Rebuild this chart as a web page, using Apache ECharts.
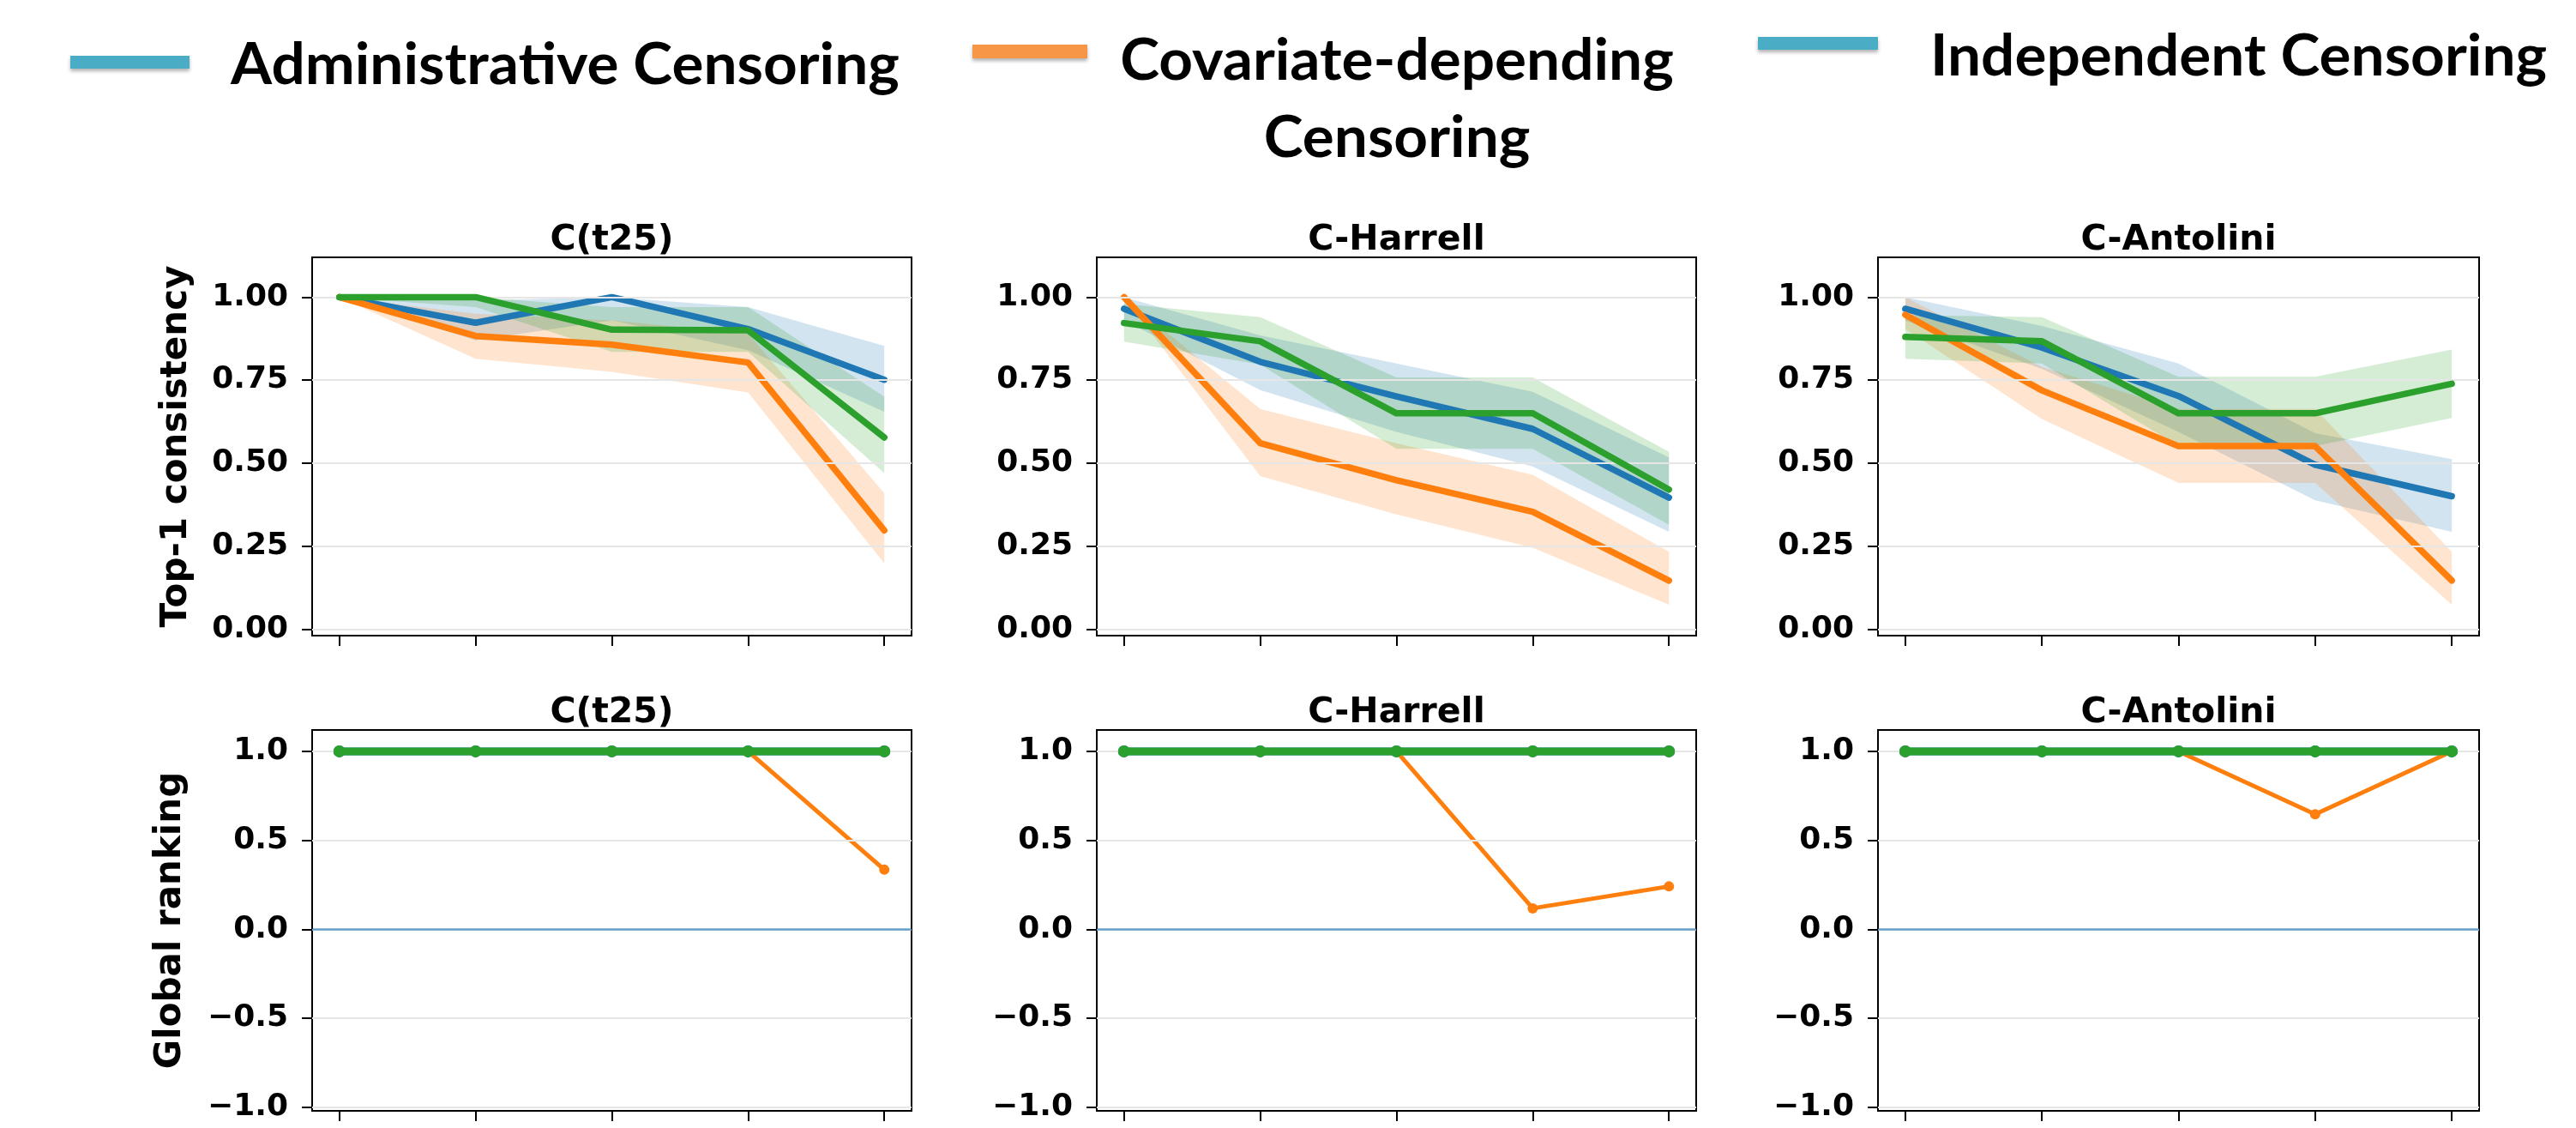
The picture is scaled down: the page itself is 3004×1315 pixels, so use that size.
<!DOCTYPE html>
<html><head><meta charset="utf-8">
<script src="https://cdn.jsdelivr.net/npm/echarts@6/dist/echarts.min.js"></script>
<style>html,body{margin:0;padding:0;background:#fff}#c{width:3004px;height:1315px}</style>
</head><body><div id="c"></div>
<script>
// ---------- data ----------
const xPositions = [0, 1, 2, 3, 4];
const panelTitles = ['C(t25)', 'C-Harrell', 'C-Antolini'];
const legendLabels = ['Administrative Censoring', 'Covariate-depending\nCensoring', 'Independent Censoring'];
const topTicks = [0, 0.25, 0.5, 0.75, 1.0];
const bottomTicks = [-1.0, -0.5, 0.0, 0.5, 1.0];
const topAxisName = 'Top-1 consistency';
const bottomAxisName = 'Global ranking';

// Top-1 consistency: mean, lower and upper band (C(t25))
const t25AdmMean = [1.0, 0.923, 1.0, 0.904, 0.751];
const t25AdmLow  = [1.0, 0.87, 0.93, 0.84, 0.655];
const t25AdmHigh = [1.0, 0.99, 1.0, 0.97, 0.853];
const t25CovMean = [1.0, 0.883, 0.857, 0.803, 0.297];
const t25CovLow  = [1.0, 0.814, 0.775, 0.713, 0.198];
const t25CovHigh = [1.0, 0.95, 0.93, 0.89, 0.409];
const t25IndMean = [1.0, 1.0, 0.902, 0.90, 0.577];
const t25IndLow  = [1.0, 0.97, 0.835, 0.835, 0.47];
const t25IndHigh = [1.0, 1.0, 0.97, 0.97, 0.70];

// C-Harrell
const harAdmMean = [0.965, 0.805, 0.701, 0.603, 0.396];
const harAdmLow  = [0.93, 0.72, 0.594, 0.49, 0.293];
const harAdmHigh = [1.0, 0.885, 0.80, 0.715, 0.517];
const harCovMean = [1.0, 0.56, 0.448, 0.353, 0.146];
const harCovLow  = [1.0, 0.461, 0.345, 0.245, 0.073];
const harCovHigh = [1.0, 0.663, 0.56, 0.465, 0.233];
const harIndMean = [0.922, 0.867, 0.65, 0.65, 0.42];
const harIndLow  = [0.866, 0.797, 0.543, 0.543, 0.314];
const harIndHigh = [0.98, 0.94, 0.758, 0.758, 0.534];

// C-Antolini
const antAdmMean = [0.965, 0.848, 0.702, 0.495, 0.40];
const antAdmLow  = [0.93, 0.784, 0.594, 0.388, 0.293];
const antAdmHigh = [1.0, 0.913, 0.80, 0.59, 0.512];
const antCovMean = [0.947, 0.719, 0.551, 0.551, 0.146];
const antCovLow  = [0.904, 0.633, 0.44, 0.44, 0.073];
const antCovHigh = [1.0, 0.79, 0.663, 0.663, 0.233];
const antIndMean = [0.88, 0.867, 0.65, 0.65, 0.739];
const antIndLow  = [0.814, 0.80, 0.551, 0.551, 0.636];
const antIndHigh = [0.946, 0.94, 0.76, 0.76, 0.842];

// Global ranking
const grT25Adm = [1, 1, 1, 1, 1];
const grT25Cov = [1, 1, 1, 1, 0.335];
const grT25Ind = [1, 1, 1, 1, 1];
const grHarAdm = [1, 1, 1, 1, 1];
const grHarCov = [1, 1, 1, 0.118, 0.241];
const grHarInd = [1, 1, 1, 1, 1];
const grAntAdm = [1, 1, 1, 1, 1];
const grAntCov = [1, 1, 1, 0.646, 1.0];
const grAntInd = [1, 1, 1, 1, 1];

// ---------- styling ----------
const C_BLUE = '#1f77b4', C_ORANGE = '#ff7f0e', C_GREEN = '#2ca02c';
const B_BLUE = 'rgba(31,119,180,0.2)', B_ORANGE = 'rgba(255,127,14,0.2)', B_GREEN = 'rgba(44,160,44,0.2)';
const FONT = 'DejaVu Sans';
const colLefts = [364, 1279, 2190];
const colWidths = [699, 699, 701];
const rowTops = [300, 851];
const rowHeights = [441, 444];

const topPanels = [
  [[t25AdmMean, t25AdmLow, t25AdmHigh], [t25CovMean, t25CovLow, t25CovHigh], [t25IndMean, t25IndLow, t25IndHigh]],
  [[harAdmMean, harAdmLow, harAdmHigh], [harCovMean, harCovLow, harCovHigh], [harIndMean, harIndLow, harIndHigh]],
  [[antAdmMean, antAdmLow, antAdmHigh], [antCovMean, antCovLow, antCovHigh], [antIndMean, antIndLow, antIndHigh]]
];
const bottomPanels = [
  [grT25Adm, grT25Cov, grT25Ind],
  [grHarAdm, grHarCov, grHarInd],
  [grAntAdm, grAntCov, grAntInd]
];

const grids = [], xAxes = [], yAxes = [], series = [], titles = [];
const tickStyle = {color: '#000', width: 2};

function pairs(arr) { return xPositions.map((x, i) => [x, arr[i]]); }

function bandSeries(g, lo, hi, color) {
  return {
    type: 'custom', xAxisIndex: g, yAxisIndex: g, z: 2, silent: true,
    data: xPositions.map((x, i) => [x, lo[i], hi[i]]),
    encode: {x: 0, y: [1, 2]},
    renderItem: function (params, api) {
      if (params.dataIndex !== 0) return null;
      const pts = [];
      for (let i = 0; i < xPositions.length; i++) pts.push(api.coord([xPositions[i], hi[i]]));
      for (let i = xPositions.length - 1; i >= 0; i--) pts.push(api.coord([xPositions[i], lo[i]]));
      return {type: 'polygon', shape: {points: pts}, style: {fill: color}};
    }
  };
}

for (let row = 0; row < 2; row++) {
  for (let col = 0; col < 3; col++) {
    const g = row * 3 + col;
    grids.push({left: colLefts[col], top: rowTops[row], width: colWidths[col], height: rowHeights[row],
      show: true, borderColor: '#000', borderWidth: 2, backgroundColor: 'transparent', containLabel: false});
    xAxes.push({gridIndex: g, type: 'value', min: -0.2, max: 4.2,
      axisLine: {show: false, onZero: false}, splitLine: {show: false},
      axisLabel: {show: false},
      axisTick: {show: true, customValues: xPositions, length: 12, lineStyle: tickStyle}});
    const ticks = row === 0 ? topTicks : bottomTicks;
    const yax = {gridIndex: g, type: 'value',
      min: row === 0 ? -0.02 : -1.02, max: 1.12,
      axisLine: {show: false, onZero: false}, splitLine: {show: false},
      axisTick: {show: true, customValues: ticks, length: 12, lineStyle: tickStyle},
      axisLabel: {customValues: ticks, margin: 28, fontFamily: FONT, fontWeight: 'bold', fontSize: 36, color: '#000',
        formatter: row === 0 ? (v => Number(v).toFixed(2)) : (v => (v < 0 ? '\u2212' : '') + Math.abs(Number(v)).toFixed(1))}
    };
    if (col === 0) {
      yax.name = row === 0 ? topAxisName : bottomAxisName;
      yax.nameLocation = 'middle';
      yax.nameGap = row === 0 ? 137 : 144;
      yax.nameTextStyle = {fontFamily: FONT, fontWeight: 'bold', fontSize: 42, color: '#000'};
    }
    yAxes.push(yax);
    titles.push({text: panelTitles[col], left: colLefts[col] + colWidths[col] / 2, top: rowTops[row] - 40,
      textAlign: 'center', padding: 0,
      textStyle: {fontFamily: FONT, fontWeight: 'bold', fontSize: 41, color: '#000'}});

    // grid lines (and zero line on bottom row) via a transparent helper series
    const mlData = ticks.map(t => ({yAxis: t}));
    if (row === 1) mlData.push({yAxis: 0, lineStyle: {color: 'rgba(31,119,180,0.65)', width: 2.5}});
    series.push({type: 'line', xAxisIndex: g, yAxisIndex: g, z: 1, silent: true,
      data: pairs(row === 0 ? topPanels[col][0][0] : bottomPanels[col][0]),
      symbol: 'none', lineStyle: {opacity: 0},
      markLine: {silent: true, symbol: ['none', 'none'], label: {show: false},
        lineStyle: {color: '#e6e6e6', width: 2, type: 'solid'}, data: mlData, animation: false}});

    const colors = [C_BLUE, C_ORANGE, C_GREEN];
    if (row === 0) {
      const bands = [B_BLUE, B_ORANGE, B_GREEN];
      topPanels[col].forEach((s, k) => series.push(bandSeries(g, s[1], s[2], bands[k])));
      topPanels[col].forEach((s, k) => series.push({type: 'line', xAxisIndex: g, yAxisIndex: g, z: 3 + k,
        silent: true, data: pairs(s[0]), symbol: 'none',
        lineStyle: {color: colors[k], width: 7.5, join: 'round', cap: 'round'}}));
    } else {
      const widths = [9, 5, 9], sizes = [14, 12, 14];
      bottomPanels[col].forEach((s, k) => series.push({type: 'line', xAxisIndex: g, yAxisIndex: g, z: 3 + k,
        silent: true, data: pairs(s), symbol: 'circle', symbolSize: sizes[k], showSymbol: true,
        itemStyle: {color: colors[k]},
        lineStyle: {color: colors[k], width: widths[k], join: 'round', cap: 'round'}}));
    }
  }
}

// ---------- legend (drawn as in the reference picture) ----------
const LFONT = 'bold 66px Lato';
const SX = 1.05;
const graphics = [
  {type: 'rect', shape: {x: 82, y: 65, width: 139, height: 15},
   style: {fill: '#4BACC6', shadowColor: 'rgba(0,0,0,0.3)', shadowBlur: 4, shadowOffsetY: 3}},
  {type: 'text', x: 269, y: 77, scaleX: SX,
   style: {text: legendLabels[0], x: 0, y: 0, font: LFONT, fill: '#000', textAlign: 'left', textVerticalAlign: 'middle'}},
  {type: 'rect', shape: {x: 1134, y: 52, width: 134, height: 16},
   style: {fill: '#F79646', shadowColor: 'rgba(0,0,0,0.3)', shadowBlur: 4, shadowOffsetY: 3}},
  {type: 'text', x: 1629, y: 27, scaleX: SX,
   style: {text: legendLabels[1], x: 0, y: 0, font: LFONT, lineHeight: 90, fill: '#000', textAlign: 'center', textVerticalAlign: 'top'}},
  {type: 'rect', shape: {x: 2050, y: 43, width: 140, height: 15},
   style: {fill: '#4BACC6', shadowColor: 'rgba(0,0,0,0.3)', shadowBlur: 4, shadowOffsetY: 3}},
  {type: 'text', x: 2251, y: 67, scaleX: SX,
   style: {text: legendLabels[2], x: 0, y: 0, font: LFONT, fill: '#000', textAlign: 'left', textVerticalAlign: 'middle'}}
];

const chart = echarts.init(document.getElementById('c'), null, {renderer: 'canvas', width: 3004, height: 1315});
chart.setOption({
  animation: false,
  backgroundColor: '#fff',
  title: titles,
  grid: grids,
  xAxis: xAxes,
  yAxis: yAxes,
  series: series,
  graphic: graphics
});
</script>
</body></html>
